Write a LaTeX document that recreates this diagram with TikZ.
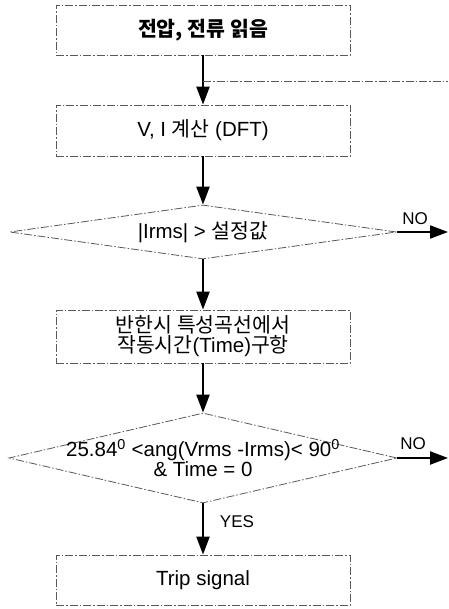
\documentclass[tikz,border=0pt]{standalone}
\usepackage{fontspec}
\setmainfont{Liberation Sans}
\newfontfamily\kr{Noto Sans CJK KR}
\usetikzlibrary{shapes.geometric,arrows.meta}
\begin{document}
\begin{tikzpicture}[x=1pt,y=-1pt,
  dd/.style={draw=black!65, line width=0.8pt, dash pattern=on 8pt off 2pt on 1.5pt off 2pt},
  box/.style={dd, rectangle, minimum width=294pt, inner sep=0pt, align=center, font=\fontsize{20.5}{20}\selectfont},
  dia/.style={dd, shape=diamond, inner sep=0pt},
  lbl/.style={inner sep=0pt, align=center, font=\fontsize{20.5}{20}\selectfont},
  flow/.style={line width=2.3pt, -{Triangle[width=13pt,length=18pt]}},
  tag/.style={inner sep=0pt, font=\fontsize{17}{17}\selectfont}]
\useasboundingbox[fill=white] (0,0) rectangle (448,609);

\node[box, minimum height=50pt] (b1) at (203,30) {{\kr\bfseries 전압, 전류 읽음}};
\node[box, minimum height=51pt] (b2) at (203,130.5) {V, I {\kr 계산} (DFT)};
\node[dia, minimum width=387pt, minimum height=54pt] (d1) at (203,232) {};
\node[lbl] (d1t) at (d1.center) {|Irms| > {\kr 설정값}};
\node[box, minimum height=53pt] (b3) at (203,336.5) {{\kr 반한시 특성곡선에서}\\{\kr 작동시간}(Time){\kr 구항}};
\node[dia, minimum width=388pt, minimum height=90pt] (d2) at (203,458) {};
\node[lbl] (d2t) at (d2.center) {25.84\textsuperscript{0} <ang(Vrms -Irms)< 90\textsuperscript{0}\\\& Time = 0};
\node[box, minimum height=50pt] (b4) at (203,580) {Trip signal};

\coordinate (fb) at (203,81);
\coordinate (fbend) at (448,81);
\coordinate (no1) at (448,232);
\coordinate (no2) at (448,458);

\draw[flow] (b1.south) -- (b2.north);
\draw[dd] (fb) -- (fbend);
\draw[flow] (b2.south) -- (d1.north);
\draw[flow] (d1.east) -- (no1);
\node[tag] (n1) at (415,219) {NO};
\draw[flow] (d1.south) -- (b3.north);
\draw[flow] (b3.south) -- (d2.north);
\draw[flow] (d2.east) -- (no2);
\node[tag] (n2) at (413,444) {NO};
\draw[flow] (d2.south) -- (b4.north);
\node[tag] (yes) at (237,522) {YES};
\end{tikzpicture}
\end{document}
